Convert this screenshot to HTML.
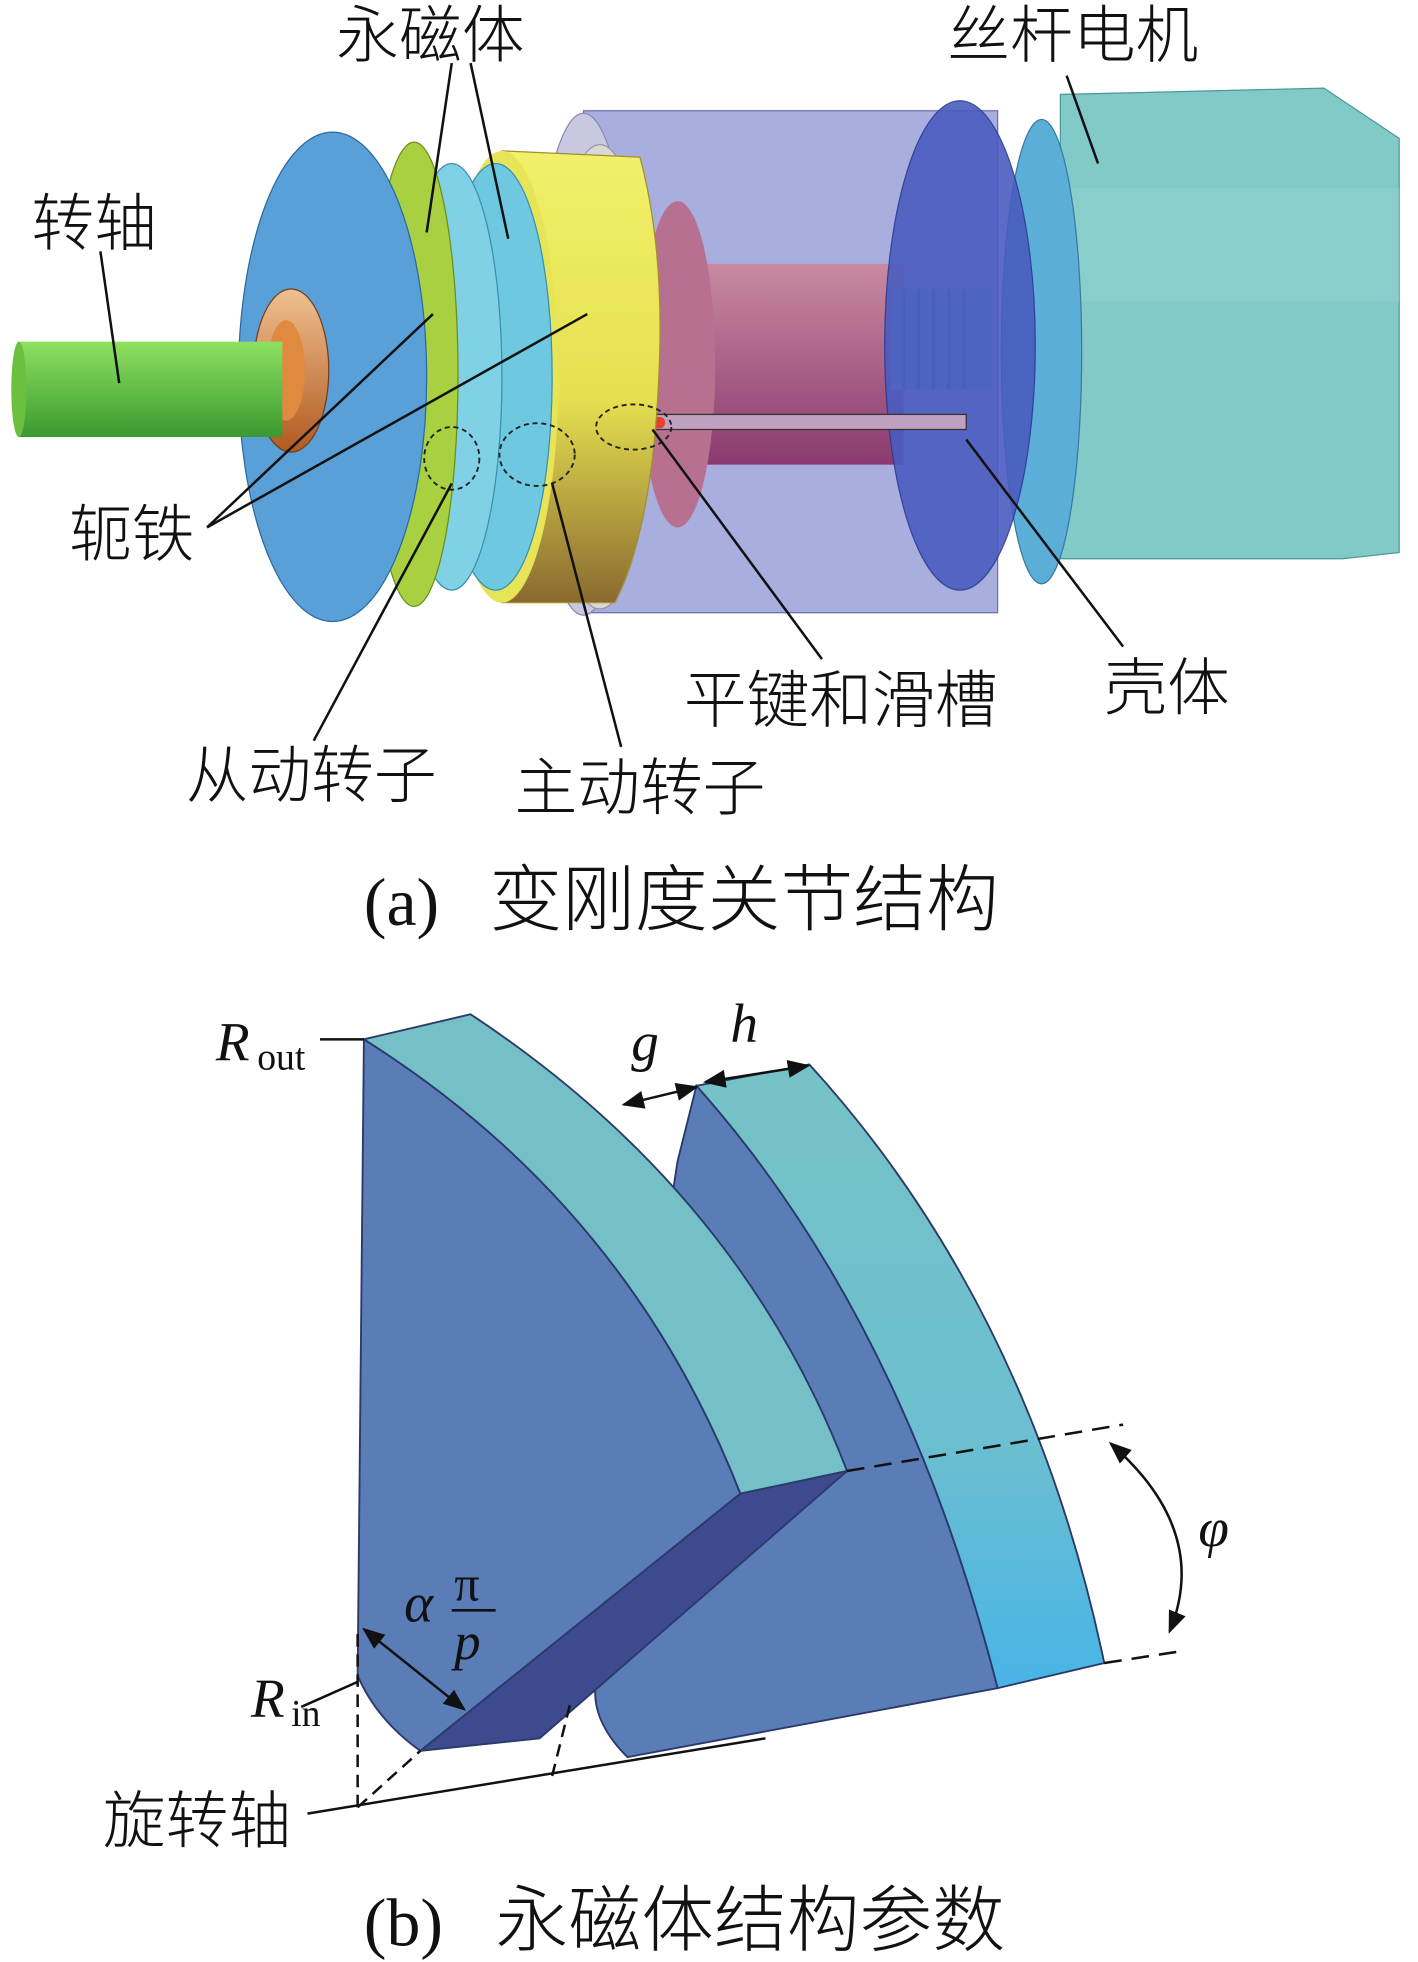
<!DOCTYPE html>
<html><head><meta charset="utf-8"><style>
html,body{margin:0;padding:0;background:#fff}
svg{display:block}
text{font-family:"Liberation Serif","Noto Serif CJK SC","Noto Sans CJK SC",serif;fill:#111}
.cj{font-family:"Noto Sans CJK SC","WenQuanYi Zen Hei",sans-serif;font-size:50px;font-weight:300}
</style></head><body>
<svg width="1418" height="1962" viewBox="0 0 1130 1563" xmlns="http://www.w3.org/2000/svg">
<defs>
<linearGradient id="yel" x1="0" y1="0" x2="0" y2="1"><stop offset="0" stop-color="#f2f06a"/><stop offset="0.55" stop-color="#e6e050"/><stop offset="1" stop-color="#8a6a30"/></linearGradient>
<linearGradient id="pink" x1="0" y1="0" x2="0" y2="1"><stop offset="0" stop-color="#c98aa0"/><stop offset="1" stop-color="#8a3a70"/></linearGradient>
<linearGradient id="shaft" x1="0" y1="0" x2="0" y2="1"><stop offset="0" stop-color="#8ee060"/><stop offset="1" stop-color="#3a9a30"/></linearGradient>
<linearGradient id="bear" x1="0" y1="0" x2="0" y2="1"><stop offset="0" stop-color="#f0c090"/><stop offset="1" stop-color="#b05a20"/></linearGradient>
<linearGradient id="rm" x1="0" y1="0" x2="0" y2="1"><stop offset="0" stop-color="#76c2c6"/><stop offset="0.6" stop-color="#6cbfd0"/><stop offset="1" stop-color="#48b4e6"/></linearGradient>
<marker id="ar" viewBox="0 0 10 10" refX="9" refY="5" markerWidth="9" markerHeight="9" orient="auto-start-reverse"><path d="M0,1 L10,5 L0,9 z" fill="#111"/></marker>
</defs>

<!-- Part (a) -->
<polygon points="845,75 1055,70 1115,110 1115,440 1070,445 845,445" fill="#82cac8" stroke="#4a9a9a"/>
<rect x="840" y="150" width="275" height="90" fill="#8fd0ce" opacity="0.6"/>
<ellipse cx="830" cy="280" rx="32" ry="185" fill="#5aaed8" stroke="#3a7aa0"/>
<rect x="465" y="88" width="330" height="400" fill="#a8aede" stroke="#6a70b0"/>
<ellipse cx="465" cy="290" rx="40" ry="200" fill="#c8c8e0" stroke="#8a8ab0"/>
<rect x="540" y="210" width="180" height="160" fill="url(#pink)"/>
<ellipse cx="540" cy="290" rx="30" ry="130" fill="#b87090"/>
<rect x="710" y="230" width="80" height="80" fill="#7ab4e8"/>
<g stroke="#4a7ab8" stroke-width="3"><line x1="720" y1="230" x2="720" y2="310"/><line x1="732" y1="230" x2="732" y2="310"/><line x1="744" y1="230" x2="744" y2="310"/><line x1="756" y1="230" x2="756" y2="310"/><line x1="768" y1="230" x2="768" y2="310"/></g>
<ellipse cx="765" cy="275" rx="60" ry="195" fill="#4a5cc0" stroke="#2a3a90" opacity="0.9"/>
<rect x="450" y="330" width="320" height="12" fill="#c0a0c0" stroke="#333" stroke-width="1"/>
<rect x="450" y="332" width="80" height="9" rx="4" fill="#e84030"/>
<ellipse cx="478" cy="300" rx="42" ry="185" fill="#d8d8d8" stroke="#999"/>
<path d="M400,120 L510,125 Q530,200 525,300 Q520,420 490,480 L400,480 Z" fill="url(#yel)" stroke="#a09030"/>
<ellipse cx="400" cy="300" rx="45" ry="180" fill="#e8e458"/>
<ellipse cx="395" cy="300" rx="45" ry="170" fill="#6ec8e0" stroke="#3a90b0"/>
<ellipse cx="360" cy="300" rx="40" ry="170" fill="#80d0e6" stroke="#3a90b0"/>
<ellipse cx="330" cy="298" rx="35" ry="185" fill="#a8d040" stroke="#6a9020"/>
<ellipse cx="265" cy="300" rx="75" ry="195" fill="#5aa0d8" stroke="#2a6aa0"/>
<ellipse cx="232" cy="295" rx="30" ry="65" fill="url(#bear)" stroke="#704020"/>
<ellipse cx="228" cy="295" rx="15" ry="40" fill="#e08a40"/>
<rect x="15" y="272" width="210" height="76" fill="url(#shaft)"/>
<ellipse cx="15" cy="310" rx="6" ry="38" fill="#6cc040"/>

<ellipse cx="360" cy="365" rx="22" ry="25" fill="none" stroke="#222" stroke-dasharray="4,3" stroke-width="1.5"/>
<ellipse cx="428" cy="362" rx="30" ry="25" fill="none" stroke="#222" stroke-dasharray="4,3" stroke-width="1.5"/>
<ellipse cx="505" cy="340" rx="30" ry="18" fill="none" stroke="#222" stroke-dasharray="4,3" stroke-width="1.5"/>

<g stroke="#111" stroke-width="2" fill="none">
<line x1="80" y1="200" x2="95" y2="305"/>
<line x1="360" y1="50" x2="340" y2="185"/>
<line x1="375" y1="50" x2="405" y2="190"/>
<line x1="165" y1="420" x2="345" y2="250"/>
<line x1="165" y1="420" x2="468" y2="250"/>
<line x1="250" y1="590" x2="360" y2="385"/>
<line x1="495" y1="595" x2="440" y2="385"/>
<line x1="655" y1="525" x2="520" y2="342"/>
<line x1="895" y1="515" x2="770" y2="350"/>
<line x1="850" y1="60" x2="875" y2="130"/>
</g>
<text class="cj" x="25" y="195">转轴</text>
<text class="cj" x="268" y="45">永磁体</text>
<text class="cj" x="755" y="45">丝杆电机</text>
<text class="cj" x="55" y="443">轭铁</text>
<text class="cj" x="148" y="635">从动转子</text>
<text class="cj" x="410" y="645">主动转子</text>
<text class="cj" x="545" y="575">平键和滑槽</text>
<text class="cj" x="880" y="565">壳体</text>
<text x="290" y="737" font-size="54">(a)</text>
<text class="cj" x="390" y="737" style="font-size:58px">变刚度关节结构</text>

<!-- Part (b) -->
<path d="M555,865 Q720,1050 795,1345 L500,1400 Q470,1370 475,1340 L540,925 Z" fill="#5a7db8" stroke="#2a3a6a" stroke-width="1.5"/>
<path d="M555,865 L645,848 Q820,1040 880,1325 L795,1345 Q720,1050 555,865 Z" fill="url(#rm)" stroke="#2a3a6a" stroke-width="1.5"/>
<path d="M290,828 Q500,960 590,1190 L335,1395 Q300,1370 285,1335 Z" fill="#5a7db8" stroke="#2a3a6a" stroke-width="1.5"/>
<path d="M290,828 L375,808 Q590,950 675,1172 L590,1190 Q500,960 290,828 Z" fill="#74c0c6" stroke="#2a3a6a" stroke-width="1.5"/>
<path d="M590,1190 L675,1172 L430,1385 L335,1395 Z" fill="#3e4a8e" stroke="#2a3a6a" stroke-width="1.5"/>

<g stroke="#111" stroke-width="2" fill="none">
<line x1="675" y1="1172" x2="895" y2="1135" stroke-dasharray="14,8"/>
<line x1="880" y1="1325" x2="945" y2="1315" stroke-dasharray="14,8"/>
<line x1="245" y1="1445" x2="610" y2="1385"/>
<line x1="285" y1="1440" x2="285" y2="1300" stroke-dasharray="10,6"/>
<line x1="285" y1="1440" x2="335" y2="1395" stroke-dasharray="10,6"/>
<line x1="440" y1="1415" x2="455" y2="1355" stroke-dasharray="10,6"/>
<line x1="255" y1="828" x2="290" y2="828"/>
<line x1="240" y1="1360" x2="285" y2="1340"/>
<line x1="497" y1="880" x2="555" y2="866" marker-start="url(#ar)" marker-end="url(#ar)"/>
<line x1="562" y1="862" x2="644" y2="849" marker-start="url(#ar)" marker-end="url(#ar)"/>
<line x1="290" y1="1298" x2="370" y2="1362" marker-start="url(#ar)" marker-end="url(#ar)"/>
<path d="M885,1150 Q965,1220 932,1300" marker-start="url(#ar)" marker-end="url(#ar)"/>
</g>
<text x="172" y="845" font-size="44" font-style="italic">R</text><text x="205" y="852" font-size="30">out</text>
<text x="503" y="845" font-size="44" font-style="italic">g</text>
<text x="582" y="830" font-size="44" font-style="italic">h</text>
<text x="955" y="1232" font-size="44" font-style="italic">φ</text>
<text x="322" y="1292" font-size="44" font-style="italic">α</text>
<text x="362" y="1275" font-size="40">π</text>
<line x1="360" y1="1283" x2="395" y2="1283" stroke="#111" stroke-width="2"/>
<text x="362" y="1322" font-size="42" font-style="italic">p</text>
<text x="200" y="1368" font-size="44" font-style="italic">R</text><text x="232" y="1375" font-size="30">in</text>
<text class="cj" x="82" y="1468">旋转轴</text>
<text x="290" y="1550" font-size="54">(b)</text>
<text class="cj" x="395" y="1550" style="font-size:58px">永磁体结构参数</text>
</svg>
</body></html>
